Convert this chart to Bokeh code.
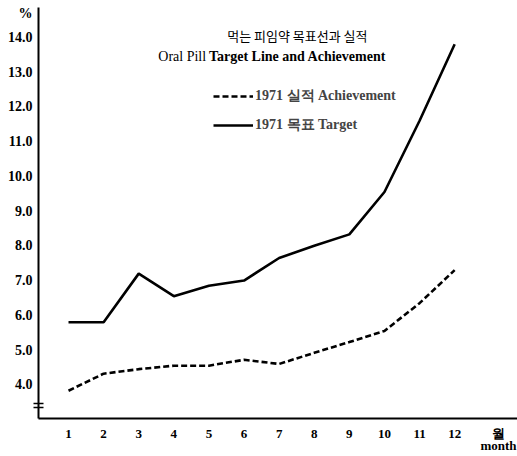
from bokeh.plotting import figure
from bokeh.models import Legend, LegendItem, Label, FixedTicker, Range1d
from bokeh.embed import file_html
from bokeh.resources import INLINE

months = list(range(1, 13))
target = [5.8, 5.8, 7.2, 6.55, 6.85, 7.0, 7.65, 8.0, 8.33, 9.55, 11.6, 13.8]
achievement = [3.83, 4.32, 4.45, 4.55, 4.55, 4.72, 4.6, 4.92, 5.23, 5.55, 6.35, 7.3]
y_ticks = [4, 5, 6, 7, 8, 9, 10, 11, 12, 13, 14]
y_tick_labels = ["4.0", "5.0", "6.0", "7.0", "8.0", "9.0", "10.0", "11.0", "12.0", "13.0", "14.0"]
x_ticks = months
x_unit = "월\nmonth"
y_unit = "%"
title_ko = "먹는 피임약 목표선과 실적"
title_en_a = "Oral Pill"
title_en_b = "Target Line and Achievement"
legend_labels = ["1971 실적 Achievement", "1971 목표 Target"]

SERIF = "Liberation Serif"

y0, y1 = 3.03, 14.86
x0, x1 = 0.145, 13.79
y_unit_pos = 14.7
x_unit_pos = 13.25
break_marks = [y0 + 0.33, y0 + 0.42]

p = figure(width=517, height=456, x_range=Range1d(x0, x1), y_range=Range1d(y0, y1),
           output_backend="svg", toolbar_location=None,
           min_border_left=38, min_border_right=0, min_border_top=7, min_border_bottom=31)
p.xgrid.visible = False
p.ygrid.visible = False
p.outline_line_color = None
p.background_fill_color = "white"
p.border_fill_color = "white"

for ax in (p.xaxis[0], p.yaxis[0]):
    ax.axis_line_width = 2
    ax.axis_line_color = "black"
    ax.major_tick_in = 0
    ax.major_tick_out = 0
    ax.minor_tick_in = 0
    ax.minor_tick_out = 0
    ax.major_label_text_font = SERIF
    ax.major_label_text_font_style = "bold"
    ax.major_label_text_color = "black"

p.yaxis.ticker = FixedTicker(ticks=y_ticks + [y_unit_pos], minor_ticks=break_marks)
ylabels = {t: l for t, l in zip(y_ticks, y_tick_labels)}
ylabels[y_unit_pos] = y_unit
p.yaxis.major_label_overrides = ylabels
p.yaxis.major_label_text_font_size = "14px"
p.yaxis.major_label_standoff = 1
p.yaxis.minor_tick_in = 5
p.yaxis.minor_tick_out = 5
p.yaxis.minor_tick_line_width = 1.5
p.yaxis.minor_tick_line_color = "black"

p.xaxis.ticker = FixedTicker(ticks=x_ticks + [x_unit_pos])
p.xaxis.major_label_overrides = {x_unit_pos: x_unit}
p.xaxis.major_label_text_font_size = "13px"
p.xaxis.major_label_text_line_height = 0.85
p.xaxis.major_label_standoff = 7

r_ach = p.line(months, achievement, line_dash="6 3", line_width=2.6, color="black")
r_tgt = p.line(months, target, line_width=2.6, color="black")

legend = Legend(items=[LegendItem(label=legend_labels[0], renderers=[r_ach]),
                       LegendItem(label=legend_labels[1], renderers=[r_tgt])],
                location=(175, 283), glyph_width=40, glyph_height=20, label_height=20,
                spacing=9, padding=0, margin=0, border_line_color=None,
                background_fill_alpha=0, label_text_font=SERIF,
                label_text_font_style="bold", label_text_font_size="14px",
                label_standoff=2)
p.add_layout(legend)

p.add_layout(Label(x=7.52, y=14.06, text=title_ko, text_align="center", text_baseline="middle",
                   text_font="Noto Sans CJK KR", text_font_size="13px", text_color="black"))
p.add_layout(Label(x=4.92, y=13.46, text=title_en_a, text_align="right", text_baseline="middle",
                   text_font=SERIF, text_font_size="14px", text_color="black"))
p.add_layout(Label(x=5.0, y=13.46, text=title_en_b, text_align="left", text_baseline="middle",
                   text_font=SERIF, text_font_style="bold", text_font_size="14px", text_color="black"))

open("out.html", "w").write(file_html(p, INLINE))
